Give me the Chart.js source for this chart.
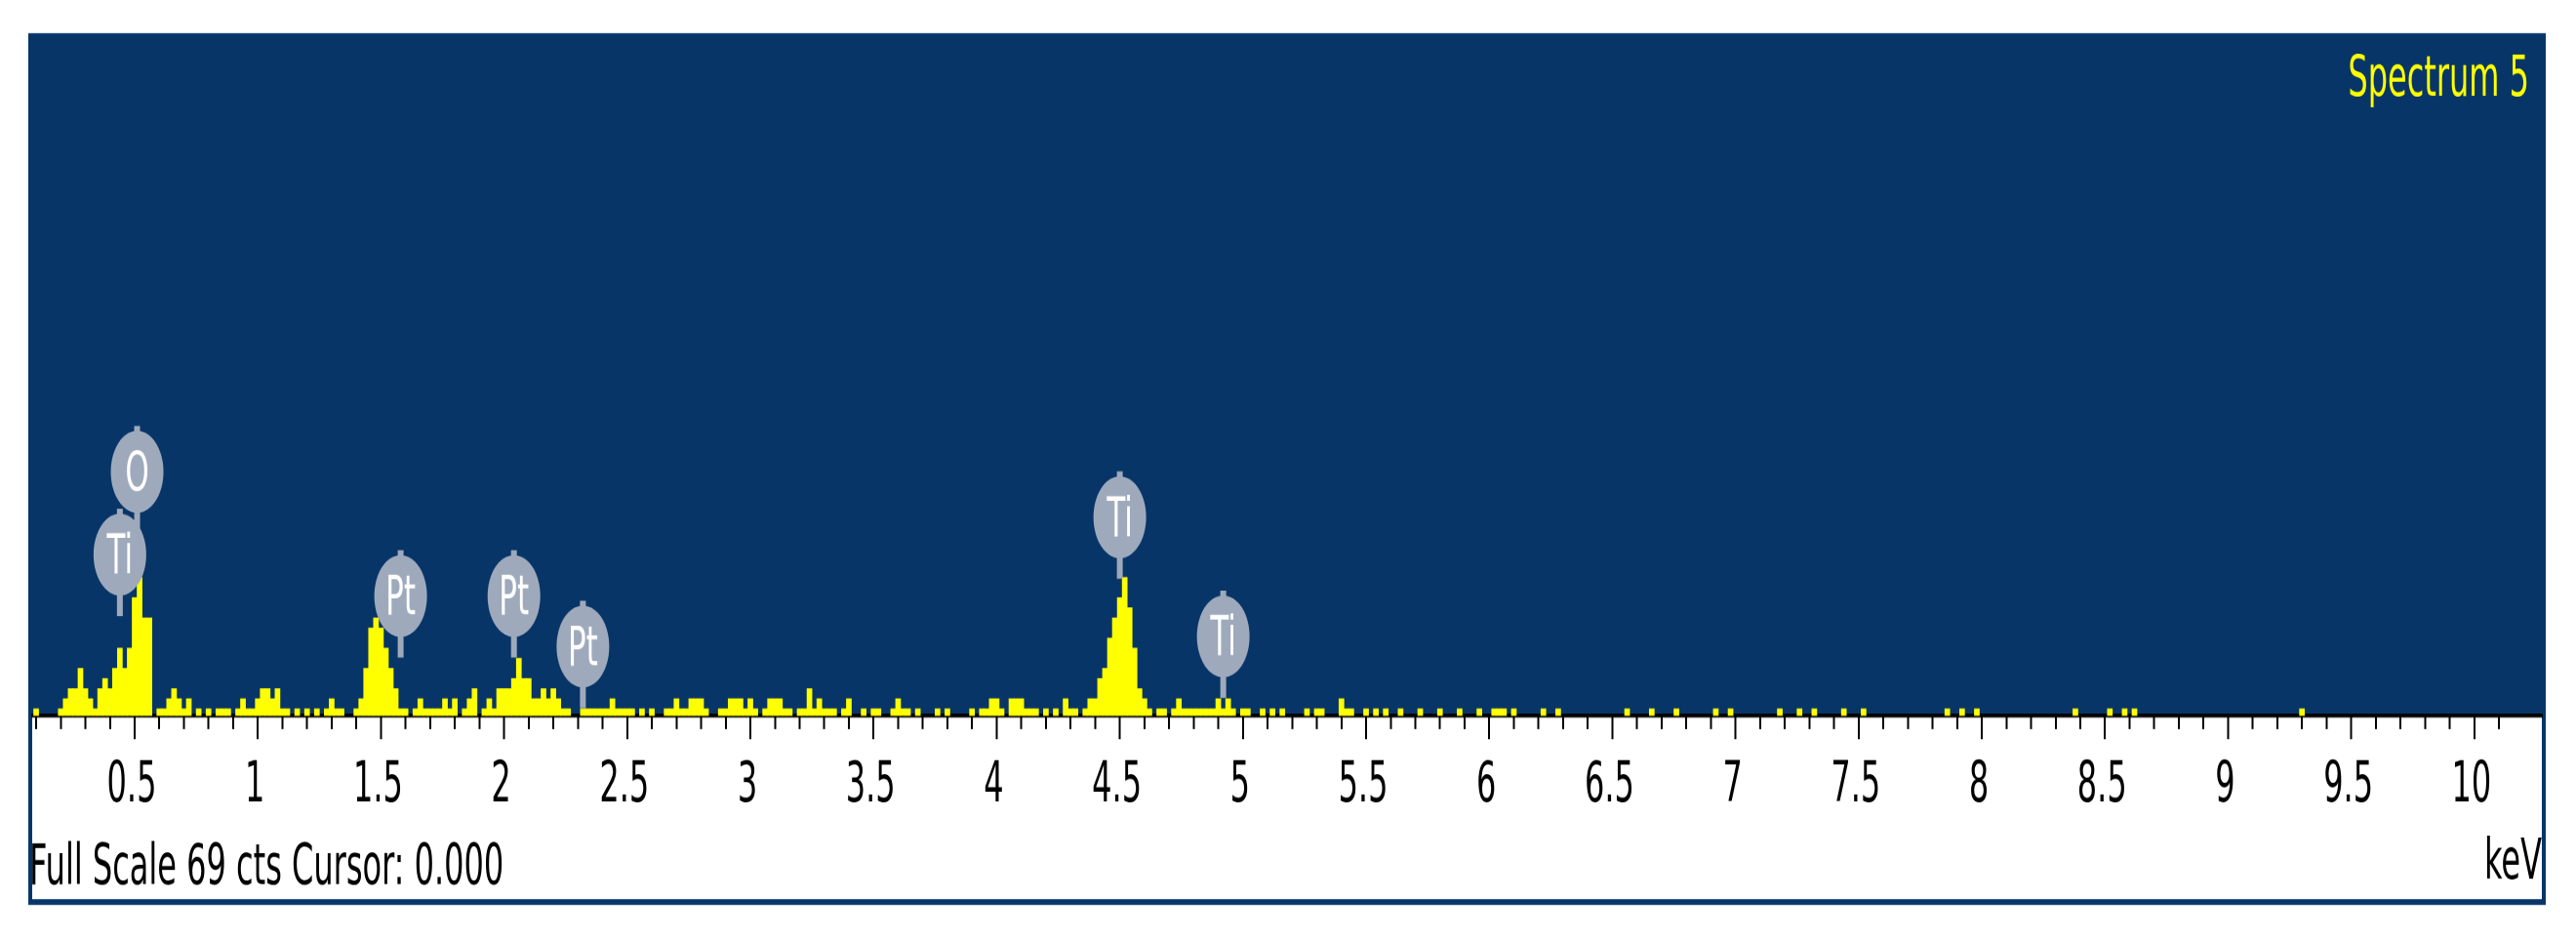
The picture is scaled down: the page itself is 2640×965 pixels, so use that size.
<!DOCTYPE html>
<html>
<head>
<meta charset="utf-8">
<title>Spectrum 5</title>
<script src="https://cdn.jsdelivr.net/npm/chart.js@4.4.1/dist/chart.umd.min.js"></script>
<style>
  html, body { margin: 0; padding: 0; background: #fff; }
  body { width: 2640px; height: 965px; }
  /* the EDS screen font is tall and narrow: draw flat, stretch vertically */
  #spectrumChart { transform: scaleY(1.80037); transform-origin: 0 0; }
</style>
</head>
<body>
<canvas id="spectrumChart" width="2640" height="536"></canvas>
<script>
// counts per 20 eV channel
const channelKeV = 0.02;
const lowStartKeV = 0.10;
const lowCounts = [
  1, 0, 0, 0, 0, 1, 2, 3, 3, 5,
  3, 2, 1, 3, 4, 3, 5, 7, 5, 7,
  12, 14, 10, 10, 0, 1, 1, 2, 3, 2,
  1, 2, 0, 1, 0, 1, 0, 1, 1, 1,
  0, 1, 2, 1, 1, 2, 3, 3, 2, 3,
  1, 1, 0, 1, 0, 1, 0, 1, 0, 1,
  2, 1, 1, 0, 0, 1, 2, 5, 9, 10,
  9, 7, 5, 3, 1, 1, 0, 1, 2, 1,
  1, 1, 1, 2, 1, 2, 0, 1, 2, 3,
  0, 1, 2, 1, 3, 3, 3, 4, 6, 4
];
const midStartKeV = 2.10;
const midCounts = [
  4, 2, 2, 3, 2, 3, 2, 1, 1, 0,
  0, 1, 1, 1, 1, 1, 1, 2, 1, 1,
  1, 1, 0, 1, 0, 1, 0, 0, 1, 1,
  2, 1, 1, 2, 2, 2, 1, 0, 0, 1,
  1, 2, 2, 2, 1, 2, 1, 0, 1, 2,
  2, 2, 1, 1, 0, 1, 1, 3, 1, 2,
  1, 1, 1, 0, 1, 2, 0, 0, 1, 0,
  1, 1, 0, 0, 1, 2, 1, 1, 0, 1,
  0, 0, 0, 1, 0, 1, 0, 0, 0, 0,
  1, 0, 1, 1, 2, 2, 1, 0, 2, 2,
  2, 1, 1, 1, 0, 1, 0, 1, 0, 2,
  1, 1, 0, 1, 2, 2, 4, 5, 8, 10,
  12, 14, 11, 7, 3, 2, 1, 0, 1, 1,
  0, 1, 2, 1, 1, 1, 1, 1, 1, 1,
  2, 1, 2, 1, 0, 1, 1, 0, 0, 1,
  0, 1, 0, 1, 0, 0, 0, 0, 1, 0,
  1, 1, 0, 0, 0, 2, 1, 1, 0, 0,
  1, 0, 1, 0, 1, 0, 0, 1, 0, 0,
  0, 1, 0, 0, 0, 1, 0, 0, 0, 1,
  0, 0, 0, 1, 0, 0, 1, 1, 1, 0
];
// above 6 keV only lone single counts remain
const singleCountKeV = [6.10, 6.22, 6.28, 6.56, 6.66, 6.76, 6.92, 6.98, 7.18, 7.26,
  7.32, 7.44, 7.52, 7.86, 7.92, 7.98, 8.38, 8.52, 8.58, 8.62, 9.30];

const majorTicks = [0.5, 1, 1.5, 2, 2.5, 3, 3.5, 4, 4.5, 5, 5.5, 6, 6.5, 7, 7.5, 8, 8.5, 9, 9.5, 10];
const lastMinorTick = 10.1;
const axisMinKeV = 0.084;
const axisMaxKeV = 10.274;
const countMin = 0.35;
const countMax = 67.9;

// element pins: label, energy, count at the pin tip
const markerLabels = ['O', 'Ti', 'Pt', 'Pt', 'Pt', 'Ti', 'Ti'];
const markerKeV = [0.51, 0.44, 1.58, 2.04, 2.32, 4.50, 4.92];
const markerCounts = [18.4, 10.2, 6.1, 6.1, 1.1, 13.9, 2.1];

const spectrumName = 'Spectrum 5';
const statusText = 'Full Scale 69 cts Cursor: 0.000';

(function () {
  const FONT = 'DejaVu Sans';
  const BLUE = '#083568';
  const YELLOW = '#ffff00';
  const PIN = '#9eaabb';

  const points = [];
  lowCounts.forEach((c, i) => points.push({ x: +(lowStartKeV + i * channelKeV).toFixed(2), y: c }));
  midCounts.forEach((c, i) => points.push({ x: +(midStartKeV + i * channelKeV).toFixed(2), y: c }));
  singleCountKeV.forEach((e) => points.push({ x: e, y: 1 }));

  const framePlugin = {
    id: 'edsFrame',
    beforeDraw(chart) {
      const { ctx, chartArea: a, width, height } = chart;
      ctx.save();
      ctx.fillStyle = '#fff';
      ctx.fillRect(0, 0, width, height);
      ctx.fillStyle = BLUE;
      ctx.fillRect(a.left - 4, a.top, a.right - a.left + 8, a.bottom - a.top + 107.7);
      ctx.fillStyle = '#fff';
      ctx.fillRect(a.left, a.bottom, a.right - a.left, 104.4);
      ctx.restore();
    },
    afterDatasetsDraw(chart) {
      const { ctx, chartArea: a } = chart;
      const xs = chart.scales.x;
      const ys = chart.scales.y;
      const rx = 27, ry = 23.3, stem = 11.7, nub = 2.8;
      ctx.save();
      markerLabels.forEach((label, i) => {
        const px = xs.getPixelForValue(markerKeV[i]);
        const tip = ys.getPixelForValue(markerCounts[i]);
        const cy = tip - stem - ry;
        ctx.fillStyle = PIN;
        ctx.fillRect(px - 3, cy - ry - nub, 6, tip - (cy - ry - nub));
        ctx.beginPath();
        ctx.ellipse(px, cy, rx, ry, 0, 0, Math.PI * 2);
        ctx.fill();
        ctx.fillStyle = '#fff';
        ctx.font = `31px "${FONT}"`;
        ctx.textAlign = 'center';
        ctx.textBaseline = 'middle';
        ctx.fillText(label, px, cy + 2.5);
      });
      ctx.fillStyle = YELLOW;
      ctx.font = `32px "${FONT}"`;
      ctx.textAlign = 'right';
      ctx.textBaseline = 'alphabetic';
      ctx.fillText(spectrumName, a.right - 13, a.top + 35.5);
      ctx.restore();
    },
    afterDraw(chart) {
      const { ctx, chartArea: a } = chart;
      ctx.save();
      ctx.fillStyle = '#000';
      ctx.font = `32px "${FONT}"`;
      ctx.textAlign = 'left';
      ctx.textBaseline = 'alphabetic';
      ctx.fillText(statusText, a.left - 3, a.bottom + 95.6);
      ctx.restore();
    }
  };

  new Chart(document.getElementById('spectrumChart').getContext('2d'), {
    type: 'bar',
    data: {
      datasets: [{
        label: spectrumName,
        data: points,
        xAxisID: 'x',
        yAxisID: 'y',
        backgroundColor: YELLOW,
        borderWidth: 0,
        categoryPercentage: 1,
        barPercentage: 1,
        clip: 0
      }]
    },
    options: {
      responsive: false,
      devicePixelRatio: 2,
      animation: false,
      events: [],
      layout: { padding: { left: 33, right: 35, top: 18.9, bottom: 16 } },
      plugins: { legend: { display: false }, tooltip: { enabled: false } },
      scales: {
        x: {
          type: 'linear',
          position: 'bottom',
          min: axisMinKeV,
          max: axisMaxKeV,
          offset: false,
          z: 1,
          afterBuildTicks: (s) => { s.ticks = majorTicks.map((value) => ({ value })); },
          afterFit: (s) => { s.height = 112.8; },
          grid: { drawOnChartArea: false, offset: false, tickLength: 13.4, lineWidth: 2, color: '#000', tickColor: '#000' },
          border: { display: true, color: '#000', width: 2.2 },
          ticks: {
            autoSkip: false,
            maxRotation: 0,
            padding: 8,
            labelOffset: -3,
            color: '#000',
            font: { family: FONT, size: 32 },
            callback: (v) => String(v)
          },
          title: {
            display: true,
            text: 'keV',
            align: 'end',
            color: '#000',
            font: { family: FONT, size: 32 },
            padding: { top: 0, bottom: 9.1 }
          }
        },
        xMinor: {
          type: 'linear',
          axis: 'x',
          position: { y: countMin },
          min: axisMinKeV,
          max: axisMaxKeV,
          offset: false,
          z: 1,
          afterBuildTicks: (s) => { s.ticks = s.ticks.filter((t) => t.value <= lastMinorTick + 1e-6); },
          grid: { drawOnChartArea: false, offset: false, tickLength: 7.9, lineWidth: 2, color: '#000', tickColor: '#000' },
          border: { display: false },
          ticks: { display: false, stepSize: 0.1, autoSkip: false, includeBounds: false }
        },
        y: { display: false, min: countMin, max: countMax }
      }
    },
    plugins: [framePlugin]
  });
})();
</script>
</body>
</html>
